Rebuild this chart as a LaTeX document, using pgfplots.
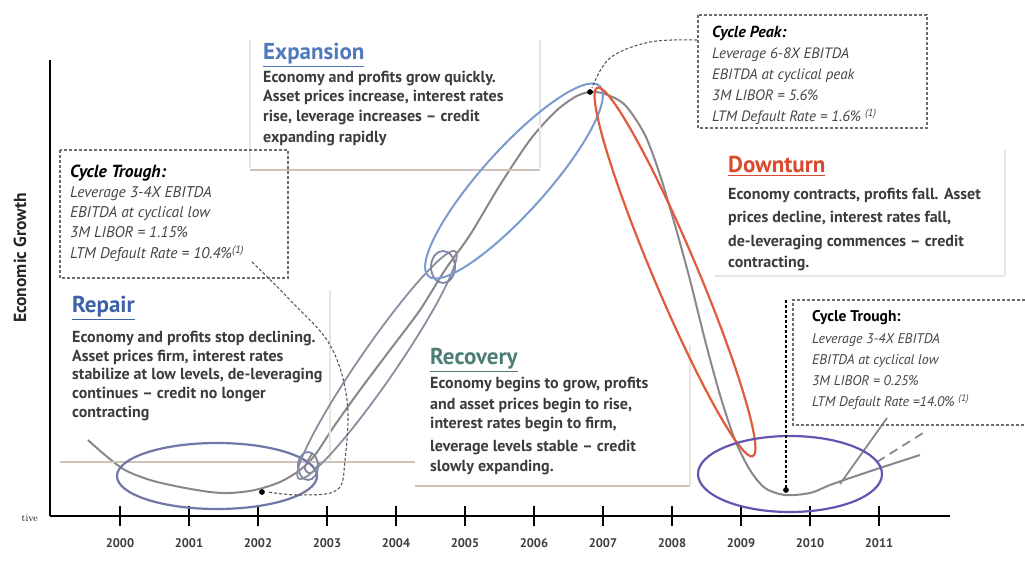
\documentclass[border=0pt]{standalone}
\usepackage{pgfplots}
\pgfplotsset{compat=1.18}
\usepackage{fontspec}
\setmainfont{PT Sans}
\newfontfamily\lmr{Latin Modern Roman}
\usetikzlibrary{arrows.meta}
\definecolor{curvegray}{HTML}{8A878C}
\definecolor{bodytext}{HTML}{3C3C3C}
\definecolor{cyctext}{HTML}{454545}
\definecolor{tblue}{HTML}{3E62A8}
\definecolor{tblue2}{HTML}{5079BC}
\definecolor{tred}{HTML}{D9492B}
\definecolor{tteal}{HTML}{4E7D76}
\definecolor{ellleft}{HTML}{6E77A6}
\definecolor{ellsmall}{HTML}{7C86A6}
\definecolor{ellrec}{HTML}{8A8E9E}
\definecolor{ellexp}{HTML}{7A9AD0}
\definecolor{elldown}{HTML}{E05A3C}
\definecolor{ellright}{HTML}{6655B0}
\definecolor{shadecol}{HTML}{CDC3BA}
\definecolor{shadeltcol}{HTML}{E8E4E0}
\tikzset{
  body/.style={anchor=base west, inner sep=0, text=bodytext, font=\bfseries\fontsize{16}{16}\selectfont},
  ttl/.style={anchor=base west, inner sep=0, font=\bfseries\fontsize{23}{23}\selectfont},
  cyct/.style={anchor=base west, inner sep=0, text=black, font=\bfseries\itshape\fontsize{17.5}{17.5}\selectfont},
  cyci/.style={anchor=base west, inner sep=0, text=cyctext, font=\itshape\fontsize{15.5}{15.5}\selectfont},
  dbox/.style={line width=1.1pt, color=gray!85!black, dash pattern=on 3pt off 2pt},
}
\begin{document}
\begin{tikzpicture}
\useasboundingbox (0,0) rectangle (1025pt,576pt);
\begin{axis}[
  at={(50pt,60pt)}, anchor=south west,
  scale only axis, width=900pt, height=456pt,
  xmin=1998.986, xmax=2012.029, ymin=0, ymax=456,
  axis x line=bottom, axis y line=left,
  axis line style={-, line width=2.5pt, black},
  xtick={2000,2001,2002,2003,2004,2005,2006,2007,2008,2009,2010,2011},
  xticklabels={2000,2001,2002,2003,2004,2005,2006,2007,2008,2009,2010,2011},
  ytick=\empty,
  major tick length=20pt, tick align=center,
  xtick style={line width=1.4pt, black},
  xticklabel style={font=\bfseries\fontsize{12.5}{12.5}\selectfont, text=bodytext, anchor=center, yshift=-17pt},
  clip=false,
  /pgf/number format/assume math mode=true,
]
% main economic growth curve
\addplot[curvegray, line width=2pt, smooth, tension=0.5] coordinates {
(1999.536,76) (1999.783,61) (2000.072,46) (2000.435,36) (2000.870,29)
(2001.304,24) (2001.594,23) (2001.957,26) (2002.319,34) (2002.609,46)
(2002.826,61) (2003.116,91) (2003.478,126) (2003.913,166) (2004.348,206)
(2004.710,246) (2005.072,281) (2005.507,331) (2005.942,376) (2006.304,404)
(2006.594,419) (2006.812,424) (2007.029,422) (2007.319,411) (2007.609,381)
(2007.826,341) (2008.043,291) (2008.261,236) (2008.478,176) (2008.696,121)
(2008.913,76) (2009.130,46) (2009.348,28) (2009.638,21) (2010.000,23)
(2010.290,31) (2010.580,38) (2011.014,48) (2011.594,61)};
% small hook at the start of the recovery
\addplot[curvegray, line width=1.8pt, smooth, tension=0.6] coordinates {
(2002.900,54) (2002.770,43) (2002.680,48) (2002.780,62)};
% branches at the right end
\addplot[curvegray, line width=1.8pt] coordinates {(2010.435,32) (2011.116,98)};
\addplot[curvegray, line width=1.8pt, dash pattern=on 9pt off 6pt] coordinates {(2010.971,54) (2011.638,83)};
% arrow targets
\addplot[only marks, mark=*, mark size=2.6pt, black] coordinates {(2002.058,24) (2006.812,424) (2009.652,26)};
\end{axis}

\begin{scope}[x=1pt, y=-1pt, yshift=576pt]
% panel shading lines
\draw[shadeltcol, line width=1.5pt] (330,290) -- (330,460);
\draw[shadeltcol, line width=1.5pt] (540,40) -- (540,168);
\draw[shadeltcol, line width=1.5pt] (690,345) -- (690,485);
\draw[shadeltcol, line width=1.5pt] (1005,150) -- (1005,275);
\draw[shadeltcol, line width=1.5pt] (250,40) -- (250,168);
\draw[shadecol, line width=2pt] (60,462) -- (415,462);
\draw[shadecol, line width=2pt] (250,170) -- (540,170);
\draw[shadecol, line width=2pt] (415,486) -- (690,486);
\draw[shadeltcol, line width=2pt] (715,276) -- (1005,276);

% ellipses
\draw[ellleft, line width=2.2pt] (217,476) ellipse [x radius=100pt, y radius=33pt];
\draw[ellsmall, line width=1.8pt] (308,466) ellipse [x radius=10pt, y radius=14pt];
\draw[ellrec, line width=1.8pt, rotate around={55.4:(377,365)}] (377,365) ellipse [x radius=138pt, y radius=18pt];
\draw[ellsmall, line width=1.8pt] (443,267) ellipse [x radius=12pt, y radius=16pt];
\draw[ellexp, line width=2pt, rotate around={48:(514,181)}] (514,181) ellipse [x radius=128pt, y radius=32pt];
\draw[elldown, line width=2.2pt, rotate around={-67.1:(675,272)}] (675,272) ellipse [x radius=200pt, y radius=22pt];
\draw[ellright, line width=2.2pt] (790,474) ellipse [x radius=92pt, y radius=38pt];

% dashed arrows
\draw[dbox, gray!70!black] plot[smooth, tension=0.6] coordinates {(252,262) (290,300) (330,345) (347,400) (345,460) (337,490) (300,495) (268,492)};
\draw[dbox, gray!70!black] plot[smooth, tension=0.6] coordinates {(697,40) (650,42) (610,58) (592,88)};
\draw[dbox, black] (786,300) -- (786,488);

% Cycle Trough (left)
\draw[dbox] (60,150) rectangle (288,278);
\node[cyct] at (70,178) {Cycle Trough:};
\node[cyci] at (70,198) {Leverage 3-4X EBITDA};
\node[cyci] at (70,218) {EBITDA at cyclical low};
\node[cyci] at (70,238) {3M LIBOR = 1.15\%};
\node[cyci] at (70,259) {LTM Default Rate = 10.4\%\textsuperscript{(1)}};

% Repair
\node[ttl, text=tblue] at (72,313) {\underline{Repair}};
\node[body] at (72,343) {Economy and profits stop declining.};
\node[body] at (72,362) {Asset prices firm, interest rates};
\node[body] at (72,380) {stabilize at low levels, de-leveraging};
\node[body] at (72,399) {continues -- credit no longer};
\node[body] at (72,418) {contracting};

% Expansion
\node[ttl, text=tblue2] at (263,60) {\underline{Expansion}};
\node[body] at (263,83) {Economy and profits grow quickly.};
\node[body] at (263,102) {Asset prices increase, interest rates};
\node[body] at (263,122) {rise, leverage increases -- credit};
\node[body] at (263,143) {expanding rapidly};

% Cycle Peak
\draw[dbox] (698,15) rectangle (927,128);
\node[cyct, font=\bfseries\itshape\fontsize{16}{16}\selectfont] at (712,38) {Cycle Peak:};
\node[cyci, font=\itshape\fontsize{15}{15}\selectfont] at (712,59) {Leverage 6-8X EBITDA};
\node[cyci, font=\itshape\fontsize{15}{15}\selectfont] at (712,80) {EBITDA at cyclical peak};
\node[cyci, font=\itshape\fontsize{15}{15}\selectfont] at (712,101) {3M LIBOR = 5.6\%};
\node[cyci, font=\itshape\fontsize{15}{15}\selectfont] at (712,122) {LTM Default Rate = 1.6\% \textsuperscript{(1)}};

% Downturn
\node[ttl, text=tred] at (728,173) {\underline{Downturn}};
\node[body] at (728,200) {Economy contracts, profits fall. Asset};
\node[body] at (728,223) {prices decline, interest rates fall,};
\node[body] at (728,247) {de-leveraging commences -- credit};
\node[body] at (728,268) {contracting.};

% Recovery
\node[ttl, text=tteal] at (430,365) {\underline{Recovery}};
\node[body] at (430,389) {Economy begins to grow, profits};
\node[body] at (430,409) {and asset prices begin to rise,};
\node[body] at (430,429) {interest rates begin to firm,};
\node[body] at (430,451) {leverage levels stable -- credit};
\node[body] at (430,471) {slowly expanding.};

% Cycle Trough (right)
\draw[dbox] (1030,300) -- (793,300) -- (793,425) -- (1030,425);
\node[cyct, font=\bfseries\fontsize{15.5}{15.5}\selectfont] at (812,322) {Cycle Trough:};
\node[cyci, font=\itshape\fontsize{14}{14}\selectfont] at (812,344) {Leverage 3-4X EBITDA};
\node[cyci, font=\itshape\fontsize{14}{14}\selectfont] at (812,365) {EBITDA at cyclical low};
\node[cyci, font=\itshape\fontsize{14}{14}\selectfont] at (812,386) {3M LIBOR = 0.25\%};
\node[cyci, font=\itshape\fontsize{14}{14}\selectfont] at (812,407) {LTM Default Rate =14.0\% \textsuperscript{(1)}};

% axis title and stray text
\node[rotate=90, inner sep=0, font=\bfseries\fontsize{17.5}{17.5}\selectfont, text=black!85] at (20,258) {Economic Growth};
\node[anchor=base east, inner sep=0, font=\lmr\fontsize{10}{10}\selectfont] at (38,521) {tive};
\end{scope}
\end{tikzpicture}
\end{document}
